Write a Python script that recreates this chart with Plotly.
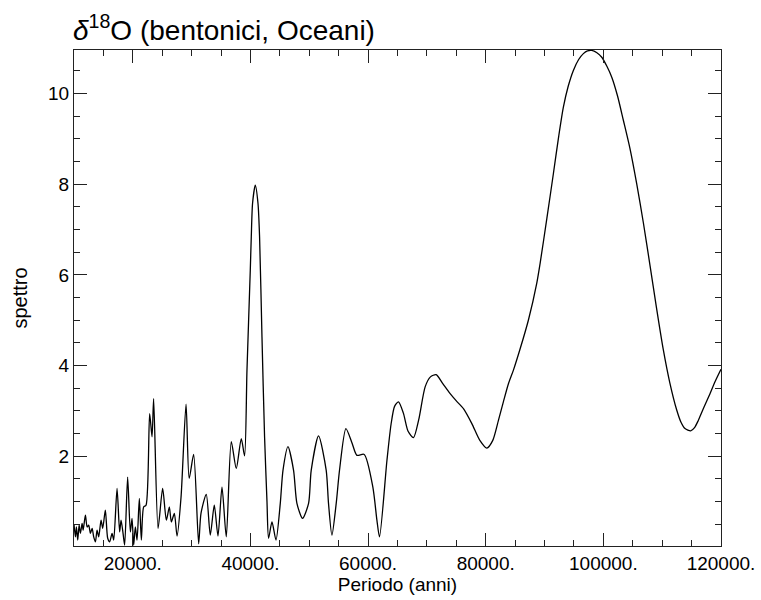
import plotly.graph_objects as go

# Period (years) and spectral power
period_years = [
    10000, 10240, 10410, 10630, 10870, 11090, 11380, 11550, 11940, 12230,
    12500, 12790, 13080, 13350, 13640, 13920, 14200, 14600, 14880, 15330,
    15730, 16070, 16470, 16750, 17320, 17760, 18000, 18340, 18610, 19120,
    19580, 19870, 20140, 20430, 20720, 21110, 21450, 21840, 22250, 22860,
    23270, 23540, 24290, 25070, 25700, 26210, 26550, 27060, 27520, 28200,
    29050, 29580, 30340, 31190, 31590, 32490, 33170, 33850, 34480, 35160,
    35890, 36740, 37590, 38440, 39000, 39410, 39970, 40140, 40360, 40820,
    41280, 41550, 41960, 42400, 42810, 43080, 43660, 44340, 45070, 45530,
    46380, 47330, 47900, 48860, 49880, 50330, 51580, 52880, 53270, 53850,
    54580, 55140, 56230, 57250, 58100, 59340, 60810, 61500, 61940, 63200,
    63900, 64500, 65170, 66000, 66800, 67720, 68600, 69700, 70600, 71570,
    72700, 73950, 75000, 76210, 77640, 79000, 80190, 81200, 82160, 83000,
    83860, 84710, 85850, 87250, 88680, 89240, 90400, 91500, 92400, 93200,
    94000, 94900, 95800, 96600, 97300, 98030, 98900, 99730, 100600, 101430,
    102400, 103400, 104500, 105680, 106800, 107940, 109000, 110190, 111300, 112470,
    113200, 113880, 114850, 115500, 116140, 117100, 118130, 119000, 120000,
]
spectrum = [
    0.50, 0.22, 0.44, 0.15, 0.48, 0.30, 0.52, 0.37, 0.70, 0.44,
    0.48, 0.30, 0.41, 0.22, 0.11, 0.37, 0.22, 0.59, 0.41, 0.81,
    0.19, 0.11, 0.30, 0.15, 1.29, 0.33, 0.59, 0.30, 0.04, 1.54,
    0.33, 0.63, 0.04, 0.44, 0.15, 1.07, 0.15, 0.88, 0.92, 2.94,
    2.43, 3.27, 0.41, 1.29, 0.59, 0.88, 0.55, 0.74, 0.24, 1.10,
    3.15, 1.51, 2.04, 0.07, 0.74, 1.16, 0.26, 0.92, 0.24, 1.32,
    0.22, 2.32, 1.73, 2.39, 2.01, 3.90, 6.10, 6.84, 7.58, 7.98,
    7.58, 6.84, 4.63, 2.43, 1.00, 0.19, 0.55, 0.15, 0.96, 1.69,
    2.21, 1.69, 0.96, 0.63, 0.96, 1.69, 2.45, 1.69, 0.96, 0.26,
    0.96, 1.69, 2.61, 2.30, 2.02, 2.04, 1.32, 0.59, 0.22, 1.90,
    2.70, 3.10, 3.20, 2.95, 2.55, 2.41, 2.80, 3.53, 3.75, 3.80,
    3.60, 3.38, 3.22, 3.05, 2.72, 2.35, 2.18, 2.35, 2.79, 3.20,
    3.60, 3.90, 4.37, 5.00, 5.82, 6.25, 7.25, 8.23, 9.05, 9.70,
    10.15, 10.51, 10.75, 10.88, 10.94, 10.95, 10.90, 10.80, 10.60, 10.36,
    9.95, 9.41, 8.80, 8.00, 7.15, 6.20, 5.30, 4.35, 3.62, 3.02,
    2.75, 2.61, 2.56, 2.63, 2.79, 3.08, 3.38, 3.65, 3.92,
]

FONT = "Liberation Sans, Arial, Helvetica, sans-serif"
AX = "#222222"

fig = go.Figure(
    go.Scatter(
        x=period_years, y=spectrum, mode="lines",
        line=dict(color="black", width=1.3, shape="spline", smoothing=0.7),
        showlegend=False, hoverinfo="skip",
    )
)

common = dict(
    ticks="inside", ticklen=13, tickwidth=1, tickcolor=AX,
    showline=True, linecolor=AX, linewidth=1, mirror="ticks",
    showgrid=False, zeroline=False, automargin=False,
    tickfont=dict(family=FONT, size=19, color="black"),
)

fig.update_layout(
    width=761, height=600,
    margin=dict(l=74, r=40, t=50, b=54, pad=0),
    paper_bgcolor="white", plot_bgcolor="white",
    font=dict(family=FONT, color="black"),
    xaxis=dict(
        range=[10000, 120000], tickmode="linear", tick0=0, dtick=20000,
        tickformat="d", ticksuffix=".",
        minor=dict(ticks="inside", ticklen=6, tickwidth=1, tickcolor=AX,
                   dtick=5000, tick0=0, showgrid=False),
        title=dict(text="Periodo (anni)", font=dict(family=FONT, size=19), standoff=4),
        **common,
    ),
    yaxis=dict(
        range=[0.02, 10.96], tickmode="linear", tick0=0, dtick=2,
        minor=dict(ticks="inside", ticklen=6, tickwidth=1, tickcolor=AX,
                   dtick=0.5, tick0=0, showgrid=False),
        title=dict(text="spettro", font=dict(family=FONT, size=20), standoff=15),
        **common,
    ),
    annotations=[
        dict(
            text="<i>δ</i><sup>18</sup>O (bentonici, Oceani)",
            x=0, xref="paper", xanchor="left",
            y=1, yref="paper", yanchor="bottom", yshift=2, xshift=-3,
            showarrow=False, font=dict(family=FONT, size=28, color="black"),
        )
    ],
)

fig.write_html("out.html")
